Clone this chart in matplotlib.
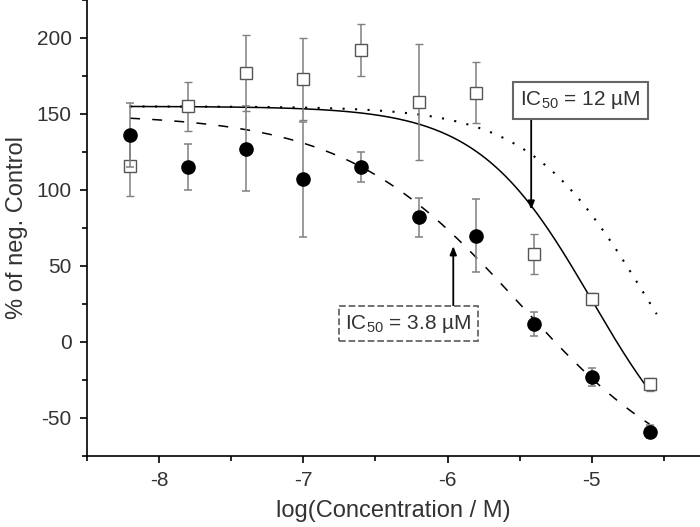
import numpy as np
import matplotlib
matplotlib.use("Agg")
import matplotlib.pyplot as plt
from matplotlib.ticker import MultipleLocator

plt.rcParams['font.family'] = ['Liberation Sans', 'DejaVu Sans']
plt.rcParams['mathtext.fontset'] = 'custom'
plt.rcParams['mathtext.rm'] = 'Liberation Sans'
plt.rcParams['axes.unicode_minus'] = False

TXT = '#333333'

# log concentration (M)
log_conc = [-8.2, -7.8, -7.4, -7.0, -6.6, -6.2, -5.8, -5.4, -5.0, -4.6]

# open squares
sq_mean = [116, 155, 177, 173, 192, 158, 164, 58, 28, -28]
sq_err = [20, 16, 25, 27, 17, 38, 20, 13, 4, 4]

# filled circles
ci_mean = [136, 115, 127, 107, 115, 82, 70, 12, -23, -59]
ci_err = [21, 15, 28, 38, 10, 13, 24, 8, 6, 4]

# dose-response fit parameters: top, bottom, log IC50, hill slope
fit_solid = (155, -100, -5.0, 1.1)
fit_dashed = (150, -100, -5.5, 0.72)
fit_dotted = (155, -100, -4.61, 1.05)


def hill(x, top, bottom, logc, h):
    return bottom + (top - bottom) / (1 + 10 ** (h * (x - logc)))


fig = plt.figure(figsize=(7, 5.27), dpi=100)
ax = fig.add_axes([0.124, 0.135, 0.876, 0.865])

xs = np.linspace(-8.2, -4.6, 300)
ax.plot(xs, hill(xs, *fit_solid), color='black', lw=1.1, zorder=2)
ax.plot(xs, hill(xs, *fit_dashed), color='black', lw=1.1,
        linestyle=(0, (6.5, 8)), zorder=2)
xd = np.linspace(-8.2, -4.55, 300)
ax.plot(xd, hill(xd, *fit_dotted), color='black', lw=1.5,
        linestyle=(0, (1, 5)), zorder=2)

ax.errorbar(log_conc, sq_mean, yerr=sq_err, fmt='s', ms=8, mfc='white',
            mec='#555555', mew=1.0, ecolor='#808080', elinewidth=1.1,
            capsize=3, capthick=1.1, zorder=3)
ax.errorbar(log_conc, ci_mean, yerr=ci_err, fmt='o', ms=9.5, mfc='black',
            mec='black', ecolor='#808080', elinewidth=1.1,
            capsize=3, capthick=1.1, zorder=4)

# IC50 boxes
ax.text(-5.08, 159, 'IC$_{\\mathregular{50}}$ = 12 µM', ha='center', va='center',
        fontsize=15, color=TXT, zorder=6,
        bbox=dict(boxstyle='square,pad=0.35', fc='white', ec='#666666', lw=1.5))
ax.text(-6.27, 12, 'IC$_{\\mathregular{50}}$ = 3.8 µM', ha='center', va='center',
        fontsize=15, color=TXT, zorder=6,
        bbox=dict(boxstyle='square,pad=0.3', fc='white', ec='#666666', lw=1.3,
                  ls='--'))

# vertical arrows from the boxes to the curves
arrow = dict(arrowstyle='-|>,head_length=0.5,head_width=0.2', color='black',
             lw=1.3, shrinkA=0, shrinkB=0)
ax.annotate('', xy=(-5.42, 87), xytext=(-5.42, 148), arrowprops=arrow, zorder=5)
ax.annotate('', xy=(-5.96, 63), xytext=(-5.96, 24), arrowprops=arrow, zorder=5)

ax.set_xlim(-8.5, -4.25)
ax.set_ylim(-75, 225)
ax.xaxis.set_major_locator(MultipleLocator(1))
ax.xaxis.set_minor_locator(MultipleLocator(0.5))
ax.yaxis.set_major_locator(MultipleLocator(50))
ax.yaxis.set_minor_locator(MultipleLocator(25))
ax.tick_params(which='major', direction='out', length=5, width=1.2,
               labelsize=15, labelcolor=TXT, pad=6)
ax.tick_params(which='minor', direction='out', length=3.5, width=1.2)

for s in ['top', 'right']:
    ax.spines[s].set_visible(False)
for s in ['left', 'bottom']:
    ax.spines[s].set_linewidth(1.2)

ax.set_xlabel('log(Concentration / M)', fontsize=17, color=TXT, labelpad=7)
ax.set_ylabel('% of neg. Control', fontsize=17, color=TXT, labelpad=6)

fig.savefig('out.png', dpi=100)
